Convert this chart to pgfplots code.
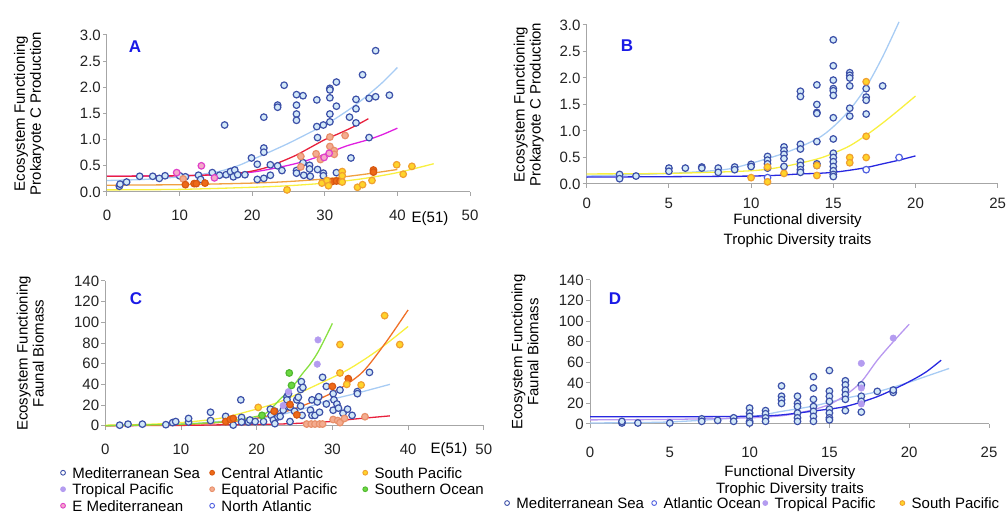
\documentclass[border=0pt]{standalone}
\usepackage{fontspec}
\setmainfont{Liberation Sans}
\usepackage{pgfplots}
\pgfplotsset{compat=1.18}
\definecolor{axgray}{HTML}{A6A6A6}
\definecolor{tickc}{HTML}{222222}
\definecolor{letterblue}{HTML}{1A1AE6}
\definecolor{medE}{HTML}{3C50A8}
\definecolor{medF}{HTML}{D2E8F8}
\definecolor{natE}{HTML}{5060E0}
\definecolor{tropF}{HTML}{B49CF0}
\definecolor{emedE}{HTML}{E040C8}
\definecolor{emedF}{HTML}{F4A8C8}
\definecolor{catE}{HTML}{D85810}
\definecolor{catF}{HTML}{EE6A18}
\definecolor{eqpE}{HTML}{E8906A}
\definecolor{eqpF}{HTML}{F4AC90}
\definecolor{spE}{HTML}{F0A030}
\definecolor{spF}{HTML}{FFD42A}
\definecolor{soE}{HTML}{50B830}
\definecolor{soF}{HTML}{6CD840}
\definecolor{lLB}{HTML}{A8CCF4}
\definecolor{lRed}{HTML}{E8203C}
\definecolor{lMag}{HTML}{E020E0}
\definecolor{lOra}{HTML}{F0A040}
\definecolor{lYel}{HTML}{F8F040}
\definecolor{lBlue}{HTML}{2828E0}
\definecolor{lGreen}{HTML}{88E040}
\definecolor{lOR}{HTML}{F07028}
\definecolor{lLav}{HTML}{B898F0}
\pgfplotsset{
  panel/.style={scale only axis, axis x line=bottom, axis y line=left,
    axis line style={draw=axgray, line width=1pt, -},
    tick align=outside, major tick length=4pt,
    every tick/.style={draw=axgray, line width=1pt},
    tick label style={font=\fontsize{15}{18}\selectfont, text=tickc},
    xticklabel style={anchor=center},
    yticklabel style={inner sep=2pt},
    /pgf/number format/assume math mode=true,
    label style={font=\fontsize{15}{16}\selectfont, text=black},
    ylabel style={anchor=center, align=center},
    xlabel style={anchor=center, align=center},
    clip=false},
  mk/.style 2 args={only marks, mark=*, mark size=3.3pt, mark options={draw=#1, fill=#2, line width=1.2pt}},
  ln/.style={no marks, line width=1.3pt, smooth, draw=#1},
}
\begin{document}
\begin{tikzpicture}
\useasboundingbox (0pt,0pt) rectangle (1006pt,513pt);
% ---------------- Panel A
\begin{axis}[panel, at={(107pt,321pt)}, anchor=south west, width=363pt, height=157pt,
  xmin=0, xmax=50, ymin=0, ymax=3, xtick={0,10,20,30,40,50}, ytick={0,0.5,1,1.5,2,2.5,3},
  yticklabel style={/pgf/number format/.cd, fixed, fixed zerofill, precision=1},
  xticklabel style={yshift=-19pt},
  ylabel={Ecosystem Functioning\\Prokaryote C Production},
  ylabel style={at={(axis description cs:-0.215,0.5)}},
  xlabel={E(51)}, xlabel style={at={(axis description cs:0.89,-0.17)}}]
\addplot[ln=lYel] coordinates {(0,0.04) (10,0.05) (20,0.09) (25,0.12) (30,0.17) (35,0.25) (40,0.37) (45,0.54)};
\addplot[ln=lOra] coordinates {(0,0.13) (10,0.14) (20,0.17) (25,0.2) (30,0.25) (35,0.33) (40,0.43)};
\addplot[ln=lLB] coordinates {(0,0.22) (5,0.24) (10,0.29) (15,0.38) (18,0.5) (20,0.62) (22,0.74) (25,0.93) (28,1.14) (30,1.28) (32,1.45) (34,1.64) (36,1.86) (38,2.10) (40,2.38)};
\addplot[ln=lMag] coordinates {(0,0.30) (10,0.31) (15,0.33) (20,0.38) (24,0.48) (27,0.58) (30,0.72) (33,0.88) (36,1.0) (38,1.1) (40,1.22)};
\addplot[ln=lRed] coordinates {(0,0.30) (10,0.31) (15,0.33) (18,0.36) (20,0.40) (22,0.47) (24,0.58) (26,0.70) (28,0.85) (30,1.0) (32,1.12) (34,1.25) (36,1.40)};
\addplot[mk={medE}{medF}] coordinates {(1.7,0.11) (1.8,0.15) (2.7,0.19) (4.5,0.30) (6.3,0.30) (7.2,0.26) (8.0,0.31) (10.0,0.31) (10.8,0.29) (12.6,0.32) (12.9,0.24) (14.5,0.37) (15.5,0.32) (16.2,1.28) (16.4,0.33) (17.0,0.39) (17.4,0.29) (17.6,0.42) (18.0,0.33) (19.0,0.33) (19.9,0.65) (20.7,0.53) (20.7,0.24) (21.6,1.43) (21.6,0.84) (21.6,0.76) (21.6,0.26) (22.5,0.32) (22.5,0.52) (23.5,1.66) (23.5,1.62) (23.5,0.50) (24.1,0.41) (24.4,2.04) (26.1,1.86) (26.1,1.66) (26.1,1.49) (26.1,1.37) (26.1,0.41) (26.1,0.36) (27.0,1.84) (27.1,0.32) (27.0,0.56) (27.9,0.51) (27.9,0.44) (28.0,0.30) (28.9,1.76) (28.9,1.25) (29.0,1.04) (29.0,0.43) (29.8,1.28) (29.8,0.36) (29.8,0.31) (30.7,1.98) (30.7,1.95) (30.7,1.80) (30.7,1.49) (30.7,1.34) (31.6,2.10) (31.6,1.64) (31.6,0.37) (33.4,1.43) (33.6,0.65) (34.3,1.77) (34.3,1.59) (34.3,1.32) (35.2,2.24) (36.1,1.79) (36.1,1.04) (37.0,2.70) (37.0,1.82) (38.9,1.85)};
\addplot[mk={eqpE}{eqpF}] coordinates {(10.5,0.25) (26.7,0.68) (26.7,0.48) (28.8,0.73) (29.4,0.62) (30.7,1.05) (30.7,0.87) (31.3,0.79) (31.3,0.72) (32.8,1.08)};
\addplot[mk={emedE}{emedF}] coordinates {(9.6,0.37) (13.0,0.50) (14.8,0.27) (29.9,0.66) (30.6,0.74)};
\addplot[mk={catE}{catF}] coordinates {(10.8,0.14) (12.0,0.16) (12.3,0.16) (13.5,0.17) (31.0,0.20) (31.6,0.21) (32.1,0.21) (36.7,0.42) (36.7,0.38)};
\addplot[mk={spE}{spF}] coordinates {(24.8,0.04) (29.6,0.17) (30.3,0.22) (30.5,0.12) (32.4,0.39) (32.4,0.31) (32.4,0.19) (34.5,0.09) (35.2,0.14) (36.5,0.22) (39.9,0.52) (40.8,0.34) (42.0,0.49)};
\end{axis}
% ---------------- Panel B
\begin{axis}[panel, at={(586.7pt,329pt)}, anchor=south west, width=411pt, height=159pt,
  xmin=0, xmax=25, ymin=0, ymax=3, xtick={0,5,10,15,20,25}, ytick={0,0.5,1,1.5,2,2.5,3},
  yticklabel style={/pgf/number format/.cd, fixed, fixed zerofill, precision=1},
  xticklabel style={yshift=-15pt},
  ylabel={Ecosystem Functioning\\Prokaryote C Production},
  ylabel style={at={(axis description cs:-0.141,0.5)}},
  xlabel={Functional diversity\\Trophic Diversity traits},
  xlabel style={at={(axis description cs:0.513,-0.295)}, font=\fontsize{15}{20}\selectfont}]
\addplot[ln=lLB] coordinates {(0,0.15) (5,0.2) (8,0.26) (9.3,0.33) (12,0.58) (14,0.85) (15,1.08) (16,1.4) (17,1.83) (18,2.4) (19,3.06)};
\addplot[ln=lYel] coordinates {(0,0.19) (5,0.2) (10,0.25) (12,0.33) (14,0.47) (15,0.58) (16,0.72) (17,0.92) (18,1.15) (19,1.40) (20,1.66)};
\addplot[ln=lBlue] coordinates {(0,0.13) (10,0.15) (13,0.19) (14,0.20) (15,0.22) (16,0.26) (17,0.31) (18,0.38) (19,0.45) (20,0.53)};
\addplot[mk={medE}{medF}] coordinates {(2,0.18) (2,0.10) (3,0.15) (5,0.30) (5,0.24) (6,0.30) (7,0.32) (7,0.30) (8,0.30) (8,0.22) (9,0.32) (9,0.27) (10,0.37) (10,0.33) (11,0.52) (11,0.45) (11,0.38) (11,0.30) (12,0.70) (12,0.63) (12,0.56) (12,0.48) (12,0.33) (13,1.75) (13,1.65) (13,0.75) (13,0.66) (13,0.42) (13,0.35) (13,0.27) (13,0.22) (14,1.87) (14,1.50) (14,1.35) (14,1.33) (14,0.80) (14,0.38) (14,0.35) (15,2.72) (15,2.23) (15,1.96) (15,1.80) (15,1.76) (15,1.67) (15,1.25) (15,0.85) (15,0.58) (15,0.50) (15,0.42) (15,0.33) (15,0.25) (15,0.18) (15,0.14) (16,2.10) (16,2.05) (16,2.00) (16,1.85) (16,1.43) (16,1.28) (17,1.80) (17,1.64) (17,1.58) (17,1.32) (18,1.85)};
\addplot[mk={natE}{white}] coordinates {(11,0.12) (17,0.27) (19,0.50)};
\addplot[mk={spE}{spF}] coordinates {(10,0.12) (11,0.04) (11,0.32) (12,0.20) (14,0.35) (14,0.16) (16,0.50) (16,0.40) (17,1.93) (17,0.90) (17,0.50)};
\end{axis}
% ---------------- Panel C
\begin{axis}[panel, at={(105.3pt,87.3pt)}, anchor=south west, width=378.5pt, height=144.7pt,
  xmin=0, xmax=50, ymin=0, ymax=140, xtick={0,10,20,30,40,50}, ytick={0,20,40,60,80,100,120,140},
  xticklabel style={yshift=-20pt},
  ylabel={Ecosystem Functioning\\Faunal Biomass},
  ylabel style={at={(axis description cs:-0.198,0.5)}},
  xlabel={E(51)}, xlabel style={at={(axis description cs:0.908,-0.168)}},
  legend columns=3, legend cell align=left,
  legend style={at={(axis description cs:-0.1197,-0.446)}, anchor=west, draw=none, fill=none,
    inner sep=0pt, column sep=0pt, row sep=3.5pt, font=\fontsize{15}{17}\selectfont,
    nodes={inner sep=0pt, text height=11pt, text depth=2pt}},
  legend image code/.code={\draw[#1, line width=0.9pt] (2.8pt,1pt) circle (2.4pt);}]
\addlegendimage{draw=medE, fill=white}
\addlegendentry{\makebox[143.4pt][l]{\hspace{6.5pt}Mediterranean Sea}}
\addlegendimage{draw=catE, fill=catF}
\addlegendentry{\makebox[147.4pt][l]{\hspace{6.5pt}Central Atlantic}}
\addlegendimage{draw=spE, fill=spF}
\addlegendentry{\makebox[120pt][l]{\hspace{6.5pt}South Pacific}}
\addlegendimage{draw=tropF, fill=tropF}
\addlegendentry{\makebox[143.4pt][l]{\hspace{6.5pt}Tropical Pacific}}
\addlegendimage{draw=eqpE, fill=eqpF}
\addlegendentry{\makebox[147.4pt][l]{\hspace{6.5pt}Equatorial Pacific}}
\addlegendimage{draw=soE, fill=soF}
\addlegendentry{\makebox[120pt][l]{\hspace{6.5pt}Southern Ocean}}
\addlegendimage{draw=emedE, fill=emedF}
\addlegendentry{\makebox[143.4pt][l]{\hspace{6.5pt}E Mediterranean}}
\addlegendimage{draw=natE, fill=white}
\addlegendentry{\makebox[147.4pt][l]{\hspace{6.5pt}North Atlantic}}
\addplot[ln=lRed, forget plot] coordinates {(0,0) (10,0.3) (15,0.8) (20,1.2) (23,1.6) (26,2.5) (29.7,4) (33,6.5) (37.6,9.5)};
\addplot[ln=lLB, forget plot] coordinates {(0,0) (10,1.5) (15,4) (20,7) (23,10.4) (26,16) (29.7,25) (33,31) (37.6,40)};
\addplot[ln=lYel, forget plot] coordinates {(0,0.5) (5,1.2) (10,3) (15,7) (18.7,13.5) (23,23) (27.5,38) (32,54) (36,73) (40,96)};
\addplot[ln=lOR, forget plot] coordinates {(0,0) (10,1) (15,3) (18,5) (21,8.7) (24.4,15) (28,25) (31,36) (34,52) (37,80) (40,112)};
\addplot[ln=lGreen, forget plot] coordinates {(0,0) (10,1.5) (15,3.5) (17,5) (20,9) (21,11) (22,17) (23,25) (24,32) (25,40) (26,50) (27,59) (28,70) (29,84) (30,99)};
\addplot[mk={medE}{medF}, forget plot] coordinates {(1.9,0.5) (3.0,1.5) (4.9,1.5) (8.0,1) (8.9,3) (9.3,4) (11.0,3.5) (11.0,7) (13.9,13) (13.9,5) (15.9,9) (16.9,0.6) (17.9,25) (18.0,8) (18.0,3.5) (18.9,3.5) (19.1,5.5) (19.8,4) (20.9,4) (21.8,16) (21.9,10) (22.2,5.5) (22.4,2) (22.4,14) (22.8,8.5) (23.1,9) (23.5,15) (24.0,28) (24.0,25) (24.2,31) (24.4,18) (24.4,4) (25.0,14) (25.3,25) (25.5,27.5) (25.8,35) (25.8,19) (25.9,42.6) (26.1,37) (26.0,10) (27.1,15) (27.3,25) (27.3,10) (27.7,10) (28.0,23) (28.2,28) (28.3,13) (28.7,46.8) (29.2,21) (29.2,38) (30.1,31) (30.2,25) (30.6,21) (30.1,15) (31.0,34.5) (30.8,17) (31.4,12) (32.0,16) (32.6,10) (33.3,33) (33.3,31) (34.9,51.6)};
\addplot[only marks, mark=*, mark size=3.3pt, mark options={draw=tropF, fill=tropF}, forget plot] coordinates {(28.1,83) (28.0,59.5) (24.2,33) (23.5,19.5)};
\addplot[mk={soE}{soF}, forget plot] coordinates {(20.7,10) (24.3,51) (24.6,39)};
\addplot[mk={catE}{catF}, forget plot] coordinates {(15.9,4) (16.5,6) (16.9,7) (22.3,14) (24.4,20.5) (25.3,10.5) (30.0,38) (32.1,45.5)};
\addplot[mk={eqpE}{eqpF}, forget plot] coordinates {(26.6,1.6) (27.2,1.6) (27.7,1.6) (28.3,1.6) (28.7,1.6) (30.1,6) (30.7,5) (31.0,3) (31.6,7) (34.3,8.7)};
\addplot[mk={spE}{spF}, forget plot] coordinates {(20.2,17.7) (31.0,78.5) (31.0,51) (31.9,40) (33.8,39.4) (36.9,106.5) (38.9,78.5)};
\end{axis}
% ---------------- Panel D
\begin{axis}[panel, at={(590pt,89pt)}, anchor=south west, width=399pt, height=144pt,
  xmin=0, xmax=25, ymin=0, ymax=140, xtick={0,5,10,15,20,25}, ytick={0,20,40,60,80,100,120,140},
  xticklabel style={yshift=-24pt},
  ylabel={Ecosystem Functioning\\Faunal Biomass},
  ylabel style={at={(axis description cs:-0.163,0.5)}},
  xlabel={Functional Diversity\\Trophic Diversity traits},
  xlabel style={at={(axis description cs:0.501,-0.399)}, font=\fontsize{15}{17}\selectfont},
  legend columns=4, legend cell align=left,
  legend style={at={(axis description cs:-0.2155,-0.556)}, anchor=west, draw=none, fill=none,
    inner sep=0pt, column sep=0pt, font=\fontsize{15}{17}\selectfont,
    nodes={inner sep=0pt, text height=11pt, text depth=2pt}},
  legend image code/.code={\draw[#1, line width=0.9pt] (2.8pt,1pt) circle (2.4pt);}]
\addlegendimage{draw=medE, fill=white}
\addlegendentry{\makebox[141.4pt][l]{\hspace{6.5pt}Mediterranean Sea}}
\addlegendimage{draw=natE, fill=white}
\addlegendentry{\makebox[105.4pt][l]{\hspace{6.5pt}Atlantic Ocean}}
\addlegendimage{draw=tropF, fill=tropF}
\addlegendentry{\makebox[131.4pt][l]{\hspace{6.5pt}Tropical Pacific}}
\addlegendimage{draw=spE, fill=spF}
\addlegendentry{\makebox[95pt][l]{\hspace{6.5pt}South Pacific}}
\addplot[ln=lLB, forget plot] coordinates {(0,1) (5,2) (10,7) (11.9,12) (14,17.5) (16,25) (18,31.4) (19.8,39.6) (21,46) (22.5,54)};
\addplot[ln=lLav, forget plot] coordinates {(0,4) (5,4.5) (10,6) (12,8) (13,10.5) (14,14) (15,19) (16,28) (17,41) (18,62) (19,80) (20,97)};
\addplot[ln=lBlue, forget plot] coordinates {(0,7) (5,7) (10,7.5) (11.9,8.7) (14,12.6) (16,17) (18,26.6) (19.8,39.6) (21,50) (22,62)};
\addplot[mk={medE}{medF}, forget plot] coordinates {(2,1) (2,2.5) (3,1) (5,1) (7,5) (7,2.6) (8,3.5) (9,6) (9,2.6) (10,15.5) (10,10.7) (10,7.4) (10,2.6) (10,1) (11,13) (11,10) (11,6) (11,2.6) (12,37) (12,27) (12,23.6) (12,20) (13,27) (13,20) (13,17) (13,10.7) (13,6) (13,2.6) (14,46) (14,35) (14,24) (14,17) (14,12.3) (14,7.4) (14,2.6) (15,52) (15,32) (15,27) (15,22) (15,14.5) (15,10.7) (15,6) (15,4) (16,42) (16,38) (16,33) (16,28.5) (16,24) (16,13) (17,38) (17,27) (17,22) (17,11.6) (18,31.7) (19,30.7) (19,33)};
\addplot[only marks, mark=*, mark size=3.3pt, mark options={draw=tropF, fill=tropF}, forget plot] coordinates {(17,59) (19,83.5) (17,35) (17,19.5)};
\end{axis}
\node[font=\fontsize{17}{17}\selectfont\bfseries, text=letterblue] at (135pt,466pt) {A};
\node[font=\fontsize{17}{17}\selectfont\bfseries, text=letterblue] at (627pt,467pt) {B};
\node[font=\fontsize{17}{17}\selectfont\bfseries, text=letterblue] at (136pt,214pt) {C};
\node[font=\fontsize{17}{17}\selectfont\bfseries, text=letterblue] at (615pt,214pt) {D};
\end{tikzpicture}
\end{document}
